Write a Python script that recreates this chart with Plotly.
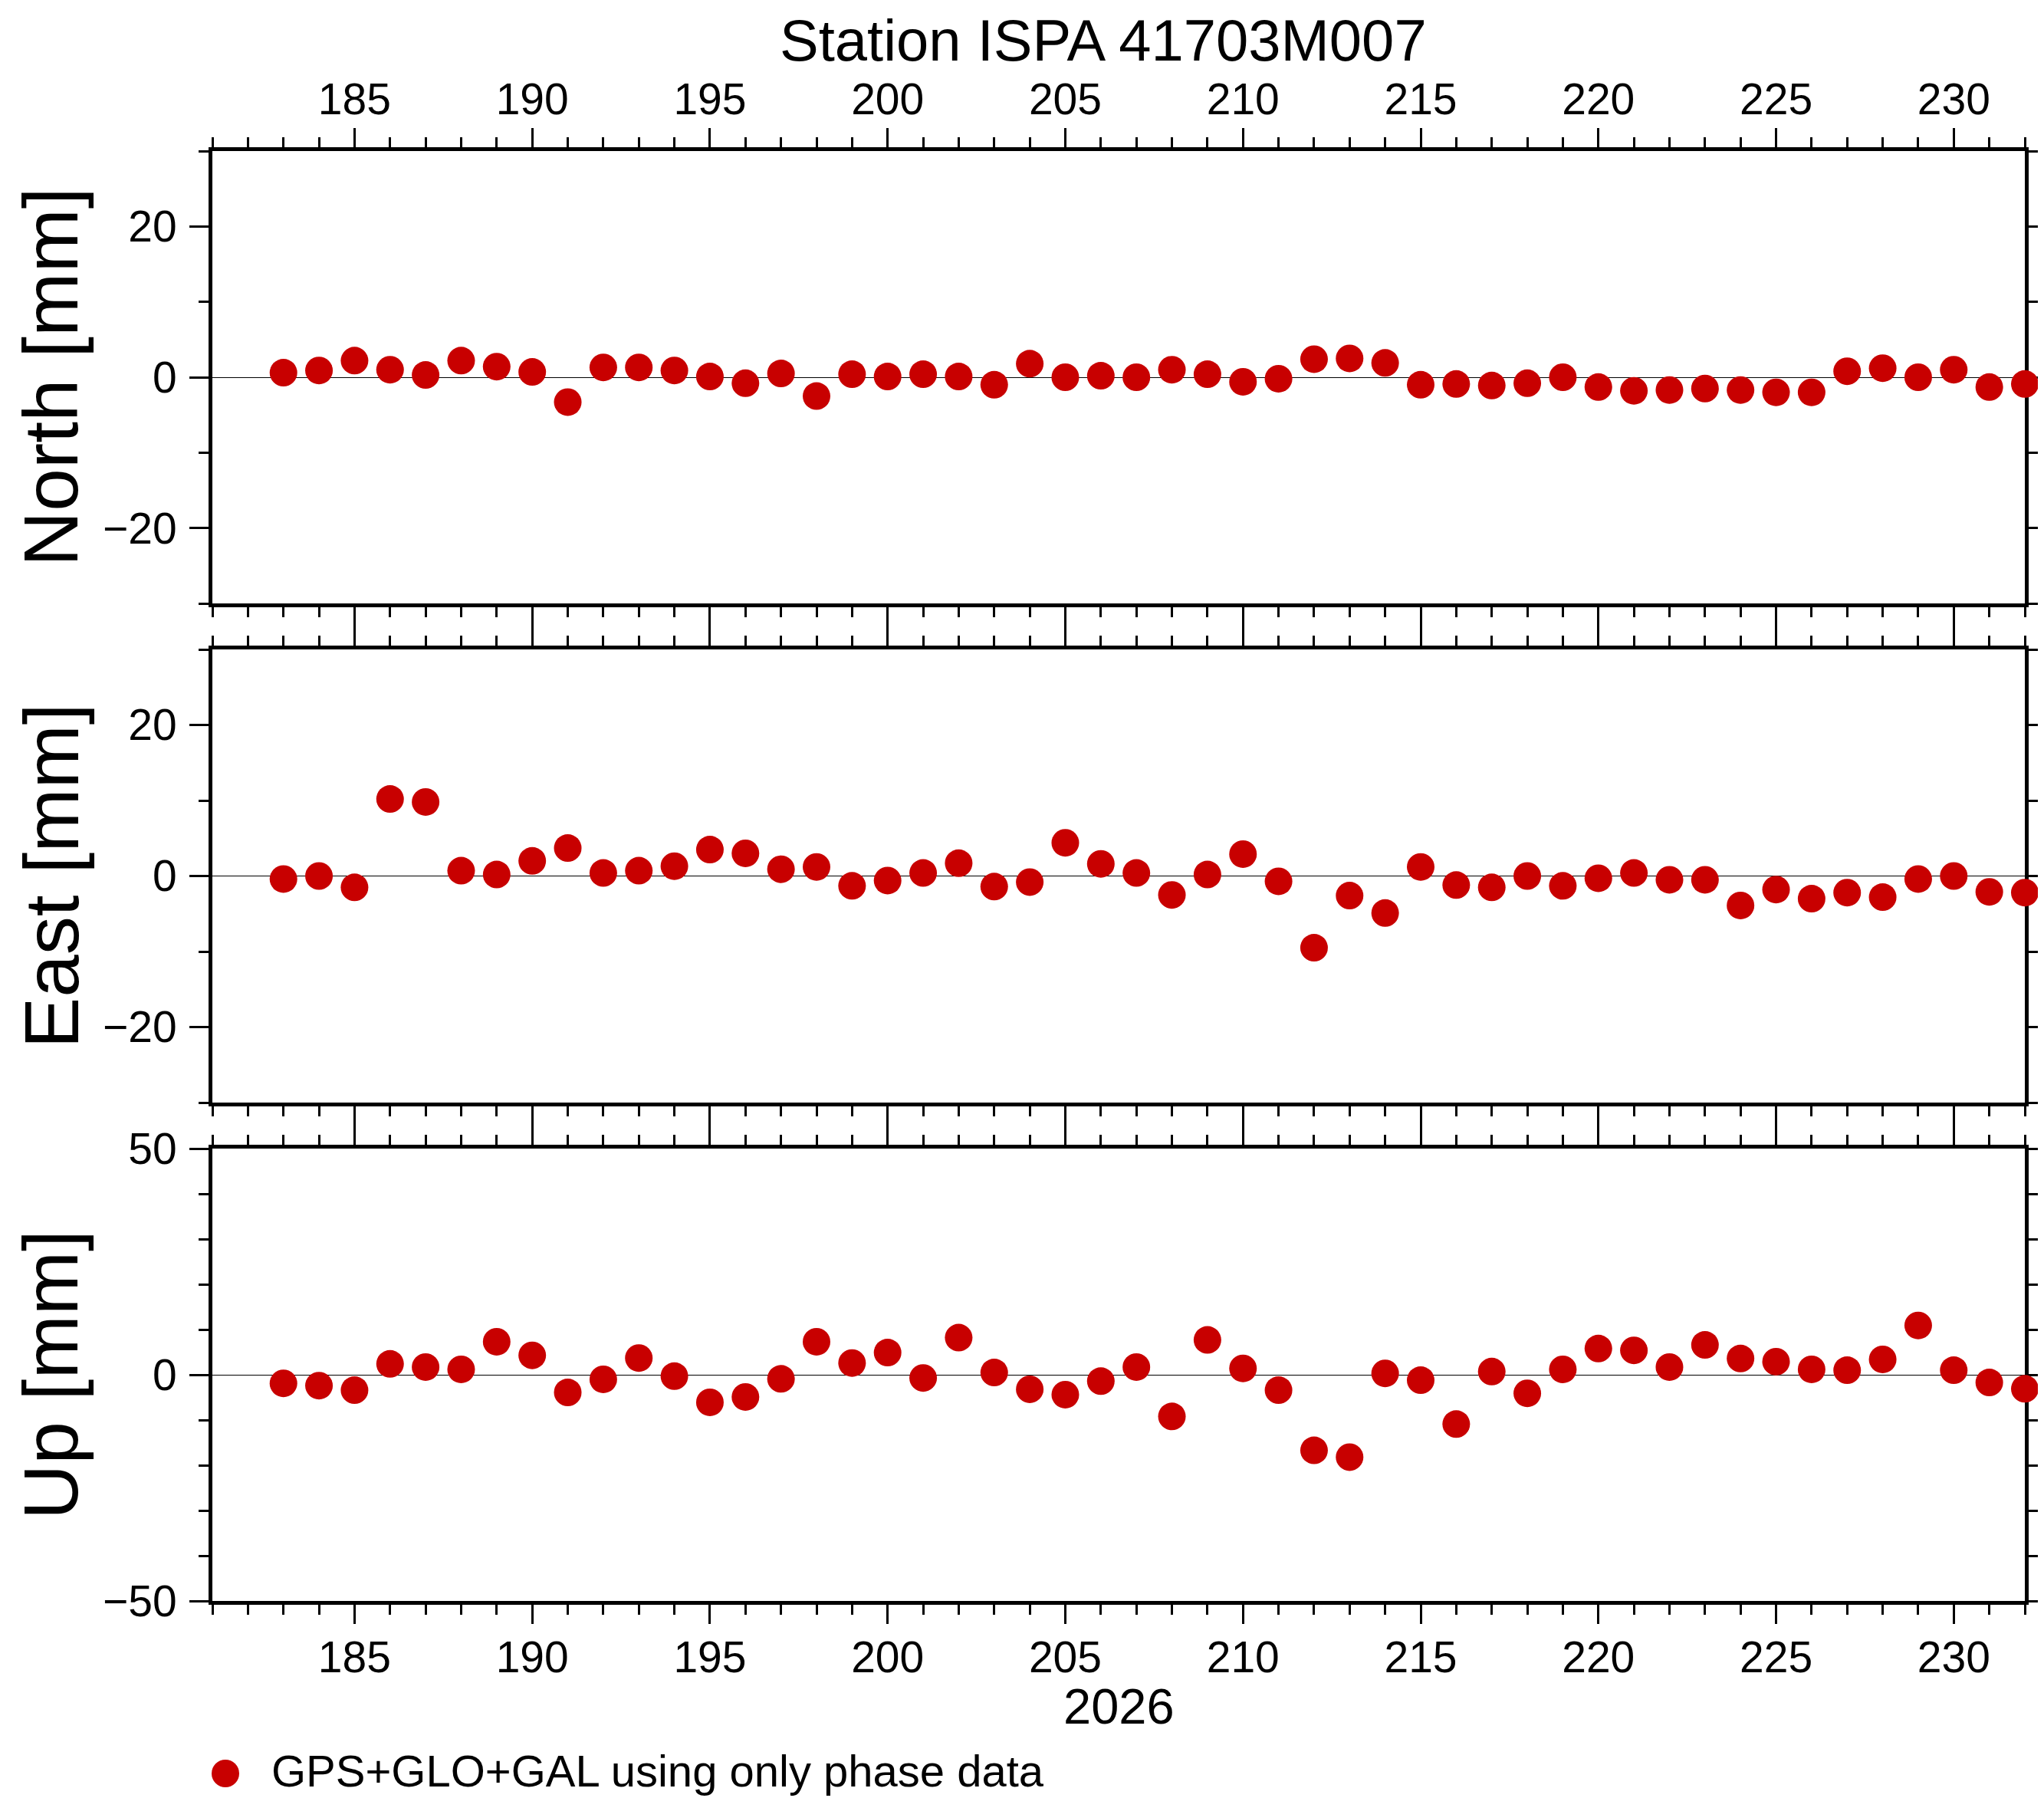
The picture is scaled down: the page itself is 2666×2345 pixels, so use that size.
import plotly.graph_objects as go

# day of year 2026
days = [183, 184, 185, 186, 187, 188, 189, 190, 191, 192,
        193, 194, 195, 196, 197, 198, 199, 200, 201, 202,
        203, 204, 205, 206, 207, 208, 209, 210, 211, 212,
        213, 214, 215, 216, 217, 218, 219, 220, 221, 222,
        223, 224, 225, 226, 227, 228, 229, 230, 231, 232]

north = [0.6, 0.9, 2.2, 1.0, 0.3, 2.2, 1.4, 0.7, -3.3, 1.3,
         1.3, 0.9, 0.1, -0.8, 0.5, -2.5, 0.4, 0.1, 0.4, 0.1,
         -1.0, 1.8, 0.0, 0.2, 0.0, 1.0, 0.4, -0.6, -0.2, 2.4,
         2.5, 1.9, -1.0, -0.9, -1.1, -0.8, 0.0, -1.3, -1.8, -1.7,
         -1.5, -1.7, -2.0, -2.0, 0.8, 1.2, 0.0, 1.0, -1.3, -0.9]

east = [-0.4, 0.0, -1.5, 10.2, 9.8, 0.7, 0.2, 2.0, 3.7, 0.4,
        0.7, 1.3, 3.5, 3.0, 0.9, 1.2, -1.3, -0.6, 0.4, 1.7,
        -1.4, -0.8, 4.4, 1.6, 0.4, -2.5, 0.2, 2.9, -0.7, -9.5,
        -2.6, -4.9, 1.2, -1.2, -1.5, 0.0, -1.3, -0.3, 0.4, -0.5,
        -0.5, -3.9, -1.8, -3.0, -2.2, -2.8, -0.4, 0.0, -2.1, -2.2]

up = [-1.9, -2.4, -3.4, 2.4, 1.7, 1.2, 7.3, 4.3, -3.9, -1.0,
      3.7, -0.3, -6.1, -4.9, -0.9, 7.3, 2.6, 4.9, -0.7, 8.2,
      0.5, -3.2, -4.4, -1.4, 1.7, -9.2, 7.7, 1.4, -3.4, -16.7,
      -18.2, 0.3, -1.2, -10.9, 0.7, -4.1, 1.2, 5.8, 5.4, 1.7,
      6.6, 3.6, 2.9, 1.2, 1.0, 3.4, 10.9, 1.0, -1.7, -3.1]

panel_titles = ["North [mm]", "East [mm]", "Up [mm]"]
title = "Station ISPA 41703M007"
year_label = "2026"
legend_label = "GPS+GLO+GAL using only phase data"

# page is 2666x2345, the plot div sits 8px in from the top-left (body margin)
OFF = 8
W, H = 2666 - OFF, 2345 - OFF
RED = "#c80000"
FONT = "Liberation Sans"


def px(x):
    return (x - OFF) / W


def py(y):
    return 1 - (y - OFF) / H


X0, X1 = px(277), px(2641)
domains = [(py(787), py(197)), (py(1438), py(847)), (py(2088), py(1498))]
yranges = [[-30, 30], [-30, 30], [-50, 50]]
ydticks = [20, 20, 50]

fig = go.Figure()
for i, vals in enumerate([north, east, up]):
    k = "" if i == 0 else str(i + 1)
    fig.add_trace(go.Scatter(
        x=days, y=vals, mode="markers", xaxis="x" + k, yaxis="y" + k,
        marker=dict(color=RED, size=36, line=dict(width=0)),
        cliponaxis=False, showlegend=False, hoverinfo="skip"))

layout = dict(
    width=W, height=H, margin=dict(l=0, r=0, t=0, b=0, pad=0),
    autosize=False,
    paper_bgcolor="white", plot_bgcolor="white",
    font=dict(family=FONT, color="black", size=57),
    showlegend=False,
)

for i in range(3):
    k = "" if i == 0 else str(i + 1)
    side = "top" if i == 0 else "bottom"
    layout["xaxis" + k] = dict(
        domain=[X0, X1], anchor="y" + k, range=[181, 232],
        side=side, showticklabels=(i != 1), automargin=False,
        ticklabelstandoff=-5,
        tick0=185, dtick=5, ticks="outside", ticklen=25, tickwidth=3,
        tickcolor="black", showline=True, linewidth=5, linecolor="black",
        mirror="ticks", showgrid=False, zeroline=False,
        tickfont=dict(size=57, family=FONT), layer="below traces",
        minor=dict(dtick=1, ticks="outside", ticklen=13, tickwidth=3,
                   tickcolor="black", showgrid=False),
    )
    layout["yaxis" + k] = dict(
        domain=list(domains[i]), anchor="x" + k, range=yranges[i],
        automargin=False, ticklabelstandoff=5,
        tick0=0, dtick=ydticks[i], ticks="outside", ticklen=25, tickwidth=3,
        tickcolor="black", showline=True, linewidth=5, linecolor="black",
        mirror="ticks", showgrid=False,
        zeroline=True, zerolinecolor="black", zerolinewidth=1.2,
        tickfont=dict(size=57, family=FONT), layer="below traces",
        minor=dict(dtick=10, ticks="outside", ticklen=13, tickwidth=3,
                   tickcolor="black", showgrid=False),
    )

annotations = []
for i, t in enumerate(panel_titles):
    annotations.append(dict(
        text=t, textangle=-90, xref="paper", yref="paper",
        x=0, xanchor="left", y=(domains[i][0] + domains[i][1]) / 2,
        yanchor="middle", showarrow=False, font=dict(size=100, family=FONT)))

annotations.append(dict(
    text=title, xref="paper", yref="paper", x=px(1439), xanchor="center",
    y=1, yanchor="top", showarrow=False,
    font=dict(size=76, family=FONT)))
annotations.append(dict(
    text=year_label, xref="paper", yref="paper", x=(X0 + X1) / 2,
    xanchor="center", y=py(2264), yanchor="bottom", showarrow=False,
    font=dict(size=65, family=FONT)))
annotations.append(dict(
    text=legend_label, xref="paper", yref="paper", x=px(352), xanchor="left",
    y=py(2344), yanchor="bottom", showarrow=False,
    font=dict(size=58, family=FONT)))
layout["annotations"] = annotations

# legend symbol
layout["shapes"] = [dict(
    type="circle", xref="paper", yref="paper",
    x0=px(276), x1=px(312), y0=py(2331), y1=py(2295),
    fillcolor=RED, line=dict(width=0))]

fig.update_layout(layout)
fig.write_html("out.html")
